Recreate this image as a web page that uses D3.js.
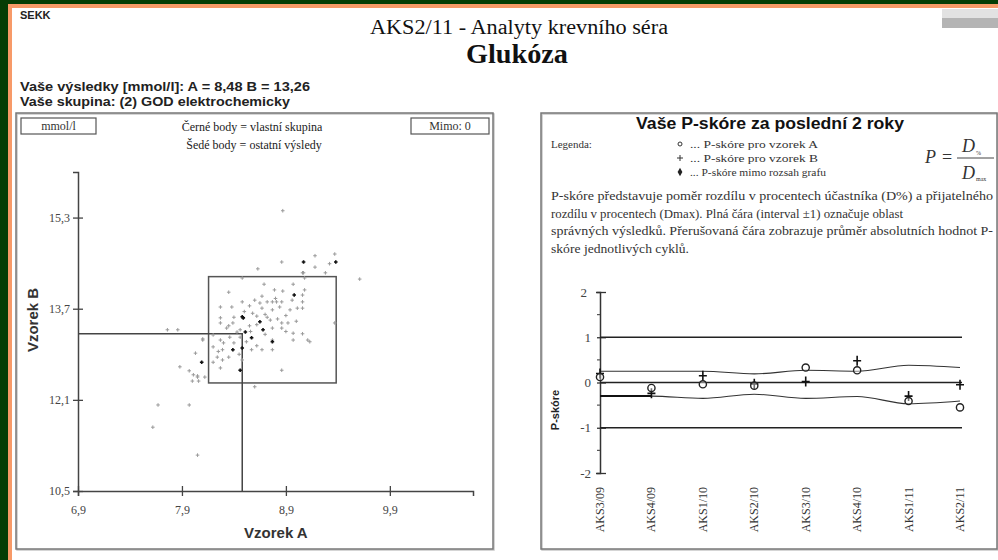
<!DOCTYPE html>
<html>
<head>
<meta charset="utf-8">
<script src="https://cdn.jsdelivr.net/npm/d3@7"></script>
<style>
  body { margin: 0; background: #053d05; }
  svg { display: block; }
</style>
</head>
<body>
<script>
// ---- data ----
const yourA = 8.48, yourB = 13.26;
const targetA = 8.77, targetB = 13.33, dmax = 0.07;

const scatterXTicks = [6.9, 7.9, 8.9, 9.9];
const scatterYTicks = [10.5, 12.1, 13.7, 15.3];

// own group (black points) [A, B]
const ownPoints = [
  [9.07, 14.52], [9.38, 14.52], [8.98, 13.94], [8.49, 13.54], [8.65, 13.47],
  [8.51, 13.29], [8.68, 13.33], [8.57, 13.19], [8.39, 12.98], [8.48, 13.01],
  [8.09, 12.76], [8.46, 12.62], [8.77, 13.12], [8.48, 13.56]
];

// other results (grey points) [A, B]
const otherPoints = [
  [8.48, 14.24], [8.69, 14.13], [8.97, 14.13], [9.08, 14.24], [9.06, 14.33],
  [9.28, 14.33], [9.61, 14.22], [8.86, 14.52], [8.35, 13.99], [8.79, 14.03],
  [8.87, 14.01], [9.08, 14.03], [9.06, 13.94], [8.67, 13.92], [8.72, 13.82],
  [8.77, 13.82], [8.81, 13.82], [8.86, 13.82], [8.48, 13.82], [9.06, 13.82],
  [9.06, 13.71], [8.27, 13.73], [8.27, 13.54], [8.27, 13.45], [8.38, 13.73],
  [8.58, 13.62], [8.67, 13.71], [8.77, 13.68], [8.84, 13.73], [8.94, 13.68],
  [9.01, 13.71], [8.75, 13.50], [8.86, 13.45], [8.92, 13.45], [8.39, 13.45],
  [8.46, 13.33], [8.43, 13.29], [8.77, 13.36], [8.86, 13.36], [8.97, 13.27],
  [9.06, 13.26], [9.37, 13.45], [8.20, 13.24], [8.27, 13.15], [8.36, 13.20],
  [8.46, 13.20], [8.77, 13.15], [8.97, 13.15], [9.11, 13.15], [8.10, 13.15],
  [8.20, 13.03], [8.29, 12.98], [8.57, 12.98], [8.67, 12.98], [8.77, 12.98],
  [8.24, 12.85], [8.29, 12.80], [8.48, 12.80], [8.20, 12.76], [8.27, 12.66],
  [8.86, 12.62], [8.01, 12.54], [8.05, 12.50], [8.12, 12.50], [8.60, 12.33],
  [7.76, 13.33], [7.86, 13.33], [8.10, 13.17], [8.03, 12.92], [7.88, 12.68],
  [7.97, 12.61], [8.05, 12.52], [8.00, 12.43], [8.06, 12.43], [7.67, 12.01],
  [7.97, 12.01], [7.62, 11.62], [8.05, 11.13], [9.13, 13.12], [8.87, 15.42],
  [9.18, 14.63], [9.18, 14.43], [9.37, 14.66], [9.32, 14.49], [8.63, 14.40],
  [9.07, 14.33], [8.62, 13.57], [8.70, 13.60], [8.55, 13.40], [8.62, 13.42],
  [8.33, 13.36], [8.40, 13.10], [8.52, 13.12], [8.70, 13.25], [8.90, 13.58],
  [8.60, 13.85], [8.65, 13.80], [8.80, 13.88], [8.55, 13.75], [8.50, 13.65],
  [8.72, 13.55], [8.82, 13.52], [8.40, 13.55], [8.35, 13.40], [8.56, 13.30],
  [8.30, 13.10], [8.45, 12.90], [8.35, 12.85], [8.25, 12.95], [8.62, 13.05],
  [8.90, 13.30], [8.96, 13.85], [9.00, 13.48]
];

const cycles = ["AKS3/09", "AKS4/09", "AKS1/10", "AKS2/10", "AKS3/10", "AKS4/10", "AKS1/11", "AKS2/11"];
const scoreA = [0.12, -0.12, -0.04, -0.07, 0.33, 0.27, -0.41, -0.55];
const scoreB = [0.20, -0.24, 0.15, -0.03, 0.02, 0.48, -0.30, -0.05];
const meanUpper = [0.25, 0.25, 0.25, 0.19, 0.27, 0.25, 0.38, 0.33];
const meanLower = [-0.30, -0.30, -0.35, -0.26, -0.35, -0.31, -0.47, -0.41];
const scoreTicks = [-2, -1, 0, 1, 2];
const scoreMinor = [-1.5, -0.5, 0.5, 1.5];

const paragraph = [
  "P-skóre představuje poměr rozdílu v procentech účastníka (D%) a přijatelného",
  "rozdílu v procentech (Dmax). Plná čára (interval ±1) označuje oblast",
  "správných výsledků. Přerušovaná čára zobrazuje průměr absolutních hodnot P-",
  "skóre jednotlivých cyklů."
];
const paragraphWidths = [442, 352, 442, 138];

// ---- page ----
const W = 998, H = 560;
const serif = "'Liberation Serif', 'Times New Roman', serif";
const sans = "'Liberation Sans', Arial, sans-serif";
const comma = d => d3.format(".1f")(d).replace(".", ",");

const svg = d3.select("body").append("svg")
  .attr("width", W)
  .attr("height", H);

svg.append("rect").attr("width", W).attr("height", H).attr("fill", "#053d05");
svg.append("rect").attr("x", 8).attr("y", 4).attr("width", W - 8).attr("height", H - 4).attr("fill", "#f79a68");
svg.append("rect").attr("x", 12).attr("y", 8).attr("width", W - 12).attr("height", H - 8).attr("fill", "#fff");

// blurred logo top right
svg.append("rect").attr("x", 942).attr("y", 9).attr("width", 56).attr("height", 9).attr("fill", "#e2e2e2");
svg.append("rect").attr("x", 942).attr("y", 18).attr("width", 56).attr("height", 10).attr("fill", "#b4b4b4");

svg.append("text")
  .attr("x", 20).attr("y", 19)
  .style("font", `bold 11px ${sans}`)
  .attr("fill", "#222")
  .text("SEKK");

svg.append("text")
  .attr("x", 519).attr("y", 34)
  .attr("text-anchor", "middle")
  .attr("textLength", 298).attr("lengthAdjust", "spacingAndGlyphs")
  .style("font", `20px ${serif}`)
  .attr("fill", "#111")
  .text("AKS2/11 - Analyty krevního séra");

svg.append("text")
  .attr("x", 517).attr("y", 63)
  .attr("text-anchor", "middle")
  .attr("textLength", 102).attr("lengthAdjust", "spacingAndGlyphs")
  .style("font", `bold 28px ${serif}`)
  .attr("fill", "#111")
  .text("Glukóza");

svg.append("text")
  .attr("x", 20).attr("y", 91)
  .attr("textLength", 290).attr("lengthAdjust", "spacingAndGlyphs")
  .style("font", `bold 12px ${sans}`)
  .attr("fill", "#222")
  .text("Vaše výsledky [mmol/l]: A = 8,48  B = 13,26");

svg.append("text")
  .attr("x", 20).attr("y", 106)
  .attr("textLength", 270).attr("lengthAdjust", "spacingAndGlyphs")
  .style("font", `bold 12px ${sans}`)
  .attr("fill", "#222")
  .text("Vaše skupina: (2) GOD elektrochemicky");

// panels
function panel(x, y, w, h) {
  svg.append("rect").attr("x", x + 1).attr("y", y + 1).attr("width", w).attr("height", h)
    .attr("fill", "none").attr("stroke", "#c8c8c8").attr("stroke-width", 1.5);
  svg.append("rect").attr("x", x).attr("y", y).attr("width", w).attr("height", h)
    .attr("fill", "none").attr("stroke", "#777").attr("stroke-width", 1.5);
}
panel(16, 113, 477, 436);
panel(541, 113, 456, 436);

// ---- left panel: scatter (Youden plot) ----
function labelBox(x, y, w, h, label) {
  svg.append("rect").attr("x", x).attr("y", y).attr("width", w).attr("height", h)
    .attr("fill", "none").attr("stroke", "#555").attr("stroke-width", 1.2);
  svg.append("text").attr("x", x + w / 2).attr("y", y + h - 4)
    .attr("text-anchor", "middle")
    .style("font", `12px ${serif}`).attr("fill", "#333")
    .text(label);
}
labelBox(21, 118, 75, 16, "mmol/l");
labelBox(411, 118, 78, 16, "Mimo: 0");

svg.append("text").attr("x", 252).attr("y", 131).attr("text-anchor", "middle")
  .style("font", `12px ${serif}`).attr("fill", "#222").text("Černé body = vlastní skupina");
svg.append("text").attr("x", 254).attr("y", 149).attr("text-anchor", "middle")
  .style("font", `12px ${serif}`).attr("fill", "#222").text("Šedé body = ostatní výsledy");

const x = d3.scaleLinear().domain([6.9, 10.7]).range([78, 473]);
const y = d3.scaleLinear().domain([10.5, 16.1]).range([491, 172]);

const gx = svg.append("g")
  .attr("transform", `translate(0,${y(10.5)})`)
  .call(d3.axisBottom(x).tickValues(scatterXTicks).tickFormat(comma).tickSizeOuter(0).tickSize(5));
const gy = svg.append("g")
  .attr("transform", `translate(${x(6.9)},0)`)
  .call(d3.axisLeft(y).tickValues(scatterYTicks).tickFormat(comma).tickSizeOuter(0).tickSize(5));

[gx, gy].forEach(g => {
  g.select(".domain").attr("stroke", "#444").attr("stroke-width", 1.5);
  g.selectAll(".tick line").attr("stroke", "#444").attr("stroke-width", 1.3);
  g.selectAll(".tick text").style("font", `12px ${serif}`).attr("fill", "#444");
});
gx.selectAll(".tick line").attr("y1", -5).attr("y2", 5);
gx.selectAll(".tick text").attr("y", 14);
gy.selectAll(".tick line").attr("x1", 5).attr("x2", -5);
gy.selectAll(".tick text").attr("x", -8);

// acceptance rectangle around target
svg.append("rect")
  .attr("x", x(targetA * (1 - dmax)))
  .attr("y", y(targetB * (1 + dmax)))
  .attr("width", x(targetA * (1 + dmax)) - x(targetA * (1 - dmax)))
  .attr("height", y(targetB * (1 - dmax)) - y(targetB * (1 + dmax)))
  .attr("fill", "none").attr("stroke", "#555").attr("stroke-width", 1.5);

// your result cross-hair
svg.append("path")
  .attr("d", `M${x(6.9)},${y(yourB)}H${x(yourA)}V${y(10.5)}`)
  .attr("fill", "none").attr("stroke", "#444").attr("stroke-width", 1.5);

function plus(sel, size) {
  return sel.append("path")
    .attr("d", d => `M${x(d[0]) - size},${y(d[1])}h${2 * size}M${x(d[0])},${y(d[1]) - size}v${2 * size}`);
}
plus(svg.append("g").selectAll("path").data(otherPoints).enter(), 1.8)
  .attr("stroke", "#9a9a9a").attr("stroke-width", 1);
plus(svg.append("g").selectAll("path").data(ownPoints).enter(), 1.8)
  .attr("stroke", "#111").attr("stroke-width", 1.6);

svg.append("text")
  .attr("x", x(8.9) - 10).attr("y", 538)
  .attr("text-anchor", "middle")
  .style("font", `bold 15px ${sans}`).attr("fill", "#333")
  .text("Vzorek A");
svg.append("text")
  .attr("transform", "translate(38,320) rotate(-90)")
  .attr("text-anchor", "middle")
  .style("font", `bold 15px ${sans}`).attr("fill", "#333")
  .text("Vzorek B");

// ---- right panel: P-score ----
svg.append("text")
  .attr("x", 770).attr("y", 129).attr("text-anchor", "middle")
  .attr("textLength", 268).attr("lengthAdjust", "spacingAndGlyphs")
  .style("font", `bold 16px ${sans}`).attr("fill", "#111")
  .text("Vaše P-skóre za poslední 2 roky");

svg.append("text").attr("x", 551).attr("y", 148)
  .style("font", `11px ${serif}`).attr("fill", "#333").text("Legenda:");

const legendRows = [
  { sym: "circle", label: "... P-skóre pro vzorek A", w: 128 },
  { sym: "plus", label: "... P-skóre pro vzorek B", w: 128 },
  { sym: "diamond", label: "... P-skóre mimo rozsah grafu", w: 136 }
];
legendRows.forEach((r, i) => {
  const ly = 148 + i * 14;
  const sx = 680;
  if (r.sym === "circle") {
    svg.append("circle").attr("cx", sx).attr("cy", ly - 4).attr("r", 2)
      .attr("fill", "none").attr("stroke", "#333").attr("stroke-width", 1);
  } else if (r.sym === "plus") {
    svg.append("path").attr("d", `M${sx - 3},${ly - 4}h6M${sx},${ly - 7}v6`)
      .attr("stroke", "#333").attr("stroke-width", 1);
  } else {
    svg.append("path").attr("d", d3.symbol(d3.symbolDiamond, 20)())
      .attr("transform", `translate(${sx},${ly - 4})`).attr("fill", "#222");
  }
  svg.append("text").attr("x", sx + 10).attr("y", ly)
    .attr("textLength", r.w).attr("lengthAdjust", "spacingAndGlyphs")
    .style("font", `11px ${serif}`).attr("fill", "#333").text(r.label);
});

// formula P = D% / Dmax
const fm = svg.append("g").style("font", `italic 18px ${serif}`).attr("fill", "#333");
fm.append("text").attr("x", 925).attr("y", 163).text("P");
fm.append("text").attr("x", 942).attr("y", 163).style("font-style", "normal").text("=");
fm.append("text").attr("x", 962).attr("y", 152).text("D");
fm.append("text").attr("x", 976).attr("y", 155).style("font", `6px ${serif}`).text("%");
fm.append("line").attr("x1", 957).attr("x2", 994).attr("y1", 158).attr("y2", 158)
  .attr("stroke", "#444").attr("stroke-width", 1);
fm.append("text").attr("x", 962).attr("y", 179).text("D");
fm.append("text").attr("x", 976).attr("y", 181).style("font", `6px ${serif}`).text("max");

paragraph.forEach((line, i) => {
  svg.append("text").attr("x", 551).attr("y", 200 + i * 17.5)
    .attr("textLength", paragraphWidths[i]).attr("lengthAdjust", "spacingAndGlyphs")
    .style("font", `12.5px ${serif}`).attr("fill", "#333").text(line);
});

const px = d3.scalePoint().domain(cycles).range([600, 960]);
const py = d3.scaleLinear().domain([-2, 2]).range([473, 292]);

const gp = svg.append("g")
  .attr("transform", `translate(${px(cycles[0])},0)`)
  .call(d3.axisLeft(py).tickValues(scoreTicks).tickFormat(d => String(d)).tickSizeOuter(0).tickSize(4));
gp.select(".domain").attr("stroke", "#333").attr("stroke-width", 1.5);
gp.selectAll(".tick line").attr("x1", 6).attr("x2", -3).attr("stroke", "#333").attr("stroke-width", 1.3);
gp.selectAll(".tick text").attr("x", -9).style("font", `13px ${serif}`).attr("fill", "#444");
gp.selectAll(".tick text").filter(d => d === 2).attr("x", -13);
gp.selectAll(".minor").data(scoreMinor).enter().append("line")
  .attr("x1", -3).attr("x2", 0)
  .attr("y1", d => py(d)).attr("y2", d => py(d))
  .attr("stroke", "#555").attr("stroke-width", 1.2);

// limit lines +-1 and zero
svg.append("g").selectAll("line").data([-1, 0, 1]).enter().append("line")
  .attr("x1", px(cycles[0])).attr("x2", px(cycles[cycles.length - 1]) + 2)
  .attr("y1", d => py(d)).attr("y2", d => py(d))
  .attr("stroke", "#222").attr("stroke-width", d => d === 0 ? 1.3 : 1.5);

// mean absolute P-score lines
const meanLine = d3.line()
  .x((d, i) => px(cycles[i]))
  .y(d => py(d))
  .curve(d3.curveMonotoneX);
[meanUpper, meanLower].forEach(m => {
  svg.append("path").datum(m).attr("d", meanLine)
    .attr("fill", "none").attr("stroke", "#333").attr("stroke-width", 1.1);
});
svg.append("path").datum(meanLower.slice(0, 2)).attr("d", meanLine)
  .attr("fill", "none").attr("stroke", "#111").attr("stroke-width", 2);

// sample B pluses and sample A circles
svg.append("g").selectAll("path").data(scoreB).enter().append("path")
  .attr("d", (d, i) => `M${px(cycles[i]) - 4},${py(d)}h8M${px(cycles[i])},${py(d) - 5}v10`)
  .attr("stroke", "#111").attr("stroke-width", 1.6);
svg.append("g").selectAll("circle").data(scoreA).enter().append("circle")
  .attr("cx", (d, i) => px(cycles[i])).attr("cy", d => py(d)).attr("r", 3.6)
  .attr("fill", "#fff").attr("fill-opacity", 0.4)
  .attr("stroke", "#222").attr("stroke-width", 1.4);

svg.append("g").selectAll("text").data(cycles).enter().append("text")
  .attr("transform", d => `translate(${px(d) + 4},487) rotate(-90)`)
  .attr("text-anchor", "end")
  .style("font", `12px ${serif}`).attr("fill", "#333")
  .text(d => d);

svg.append("text")
  .attr("transform", "translate(559,410) rotate(-90)")
  .attr("text-anchor", "middle")
  .style("font", `bold 11px ${sans}`).attr("fill", "#222")
  .text("P-skóre");
</script>
</body>
</html>
